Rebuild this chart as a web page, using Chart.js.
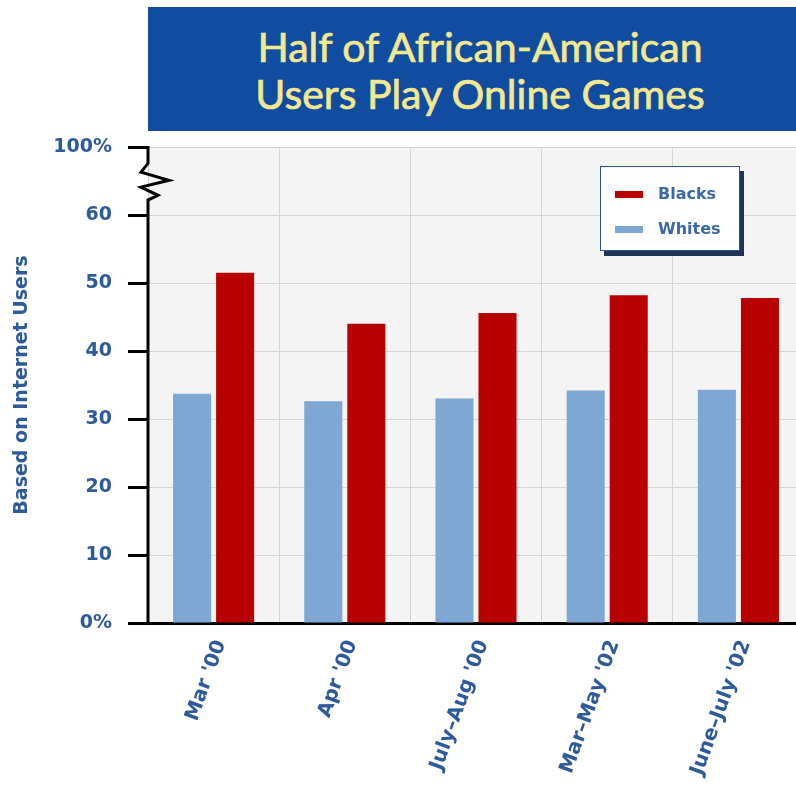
<!DOCTYPE html>
<html>
<head>
<meta charset="utf-8">
<script src="https://cdn.jsdelivr.net/npm/chart.js@4.4.1/dist/chart.umd.min.js"></script>
<style>
  html, body { margin: 0; padding: 0; background: #fff; width: 796px; height: 793px; overflow: hidden; }
  #wrap { position: relative; width: 796px; height: 793px; overflow: hidden; }
  #chart { position: absolute; left: 0; top: 0; }
  #banner {
    position: absolute; left: 148px; top: 7px; width: 664px; height: 124px;
    background: #104ca0; color: #f3e890;
    font-family: Lato, "Open Sans", sans-serif; font-size: 41px;
    -webkit-text-stroke: 0.7px #f3e890;
    text-align: center; line-height: 47px; box-sizing: border-box; padding-top: 16px;
  }
  #legend {
    position: absolute; left: 600px; top: 166px; width: 140px; height: 85px;
    box-sizing: border-box; background: #fff; border: 1.5px solid #2a5490;
    box-shadow: 4px 5px 0 #1d3358;
    font-family: "DejaVu Sans", sans-serif; font-weight: bold; font-size: 16px; color: #3a68a6;
  }
  #legend .item { position: absolute; left: 0; height: 20px; line-height: 20px; }
  #legend .sw { position: absolute; left: 14px; top: 7px; width: 28px; height: 7px; }
  #legend .lb { position: absolute; left: 57px; top: 0; white-space: nowrap; }
</style>
</head>
<body>
<div id="wrap">
  <canvas id="chart" width="804" height="793"></canvas>
  <div id="banner">Half of African-American<br>Users Play Online Games</div>
  <div id="legend"></div>
</div>
<script>
const categories = ["Mar '00", "Apr '00", "July\u2013Aug '00", "Mar\u2013May '02", "June\u2013July '02"];
const whites = [33.7, 32.6, 33.0, 34.2, 34.3];
const blacks = [51.5, 44.0, 45.6, 48.2, 47.8];
const yTickValues = [0, 10, 20, 30, 40, 50, 60, 70];
const yTickLabels = ['0%', '10', '20', '30', '40', '50', '60', '100%'];

const blue = '#2d5a9b';
const tickFont = { family: 'DejaVu Sans', weight: 'bold', size: 19 };
const xFont = { family: 'DejaVu Sans', weight: 'bold', size: 20 };
const titleFont = { family: 'DejaVu Sans', weight: 'bold', size: 19 };
Chart.defaults.font.family = 'DejaVu Sans';

// light grey plot background
const plotBg = {
  id: 'plotBg',
  beforeDraw(chart) {
    const a = chart.chartArea, c = chart.ctx;
    c.save();
    c.fillStyle = '#f4f4f4';
    c.fillRect(a.left, a.top, a.right - a.left, a.bottom - a.top);
    c.restore();
  }
};

// y axis line with the break between 60 and 100%
const axisBreak = {
  id: 'axisBreak',
  afterDraw(chart) {
    const y = chart.scales.y, c = chart.ctx, x0 = chart.chartArea.left;
    const zig = [[0, 67.6], [-7, 66.3], [21, 65.1], [-7, 64.1], [10, 62.9], [0, 62.2]];
    c.save();
    c.strokeStyle = '#000';
    c.lineWidth = 3;
    c.beginPath();
    c.moveTo(x0, y.getPixelForValue(0) + 1.5);
    zig.slice().reverse().forEach(p => c.lineTo(x0 + p[0], y.getPixelForValue(p[1])));
    c.lineTo(x0, y.getPixelForValue(70) - 1);
    c.stroke();
    c.restore();
  }
};

const ctx = document.getElementById('chart').getContext('2d');
const chart = new Chart(ctx, {
  type: 'bar',
  data: {
    labels: categories,
    datasets: [{
      label: 'Whites',
      data: whites,
      backgroundColor: '#7ea7d3',
      categoryPercentage: 0.656,
      barPercentage: 0.884
    }, {
      label: 'Blacks',
      data: blacks,
      backgroundColor: '#b80000',
      categoryPercentage: 0.656,
      barPercentage: 0.884
    }]
  },
  options: {
    responsive: false,
    animation: false,
    layout: { padding: { top: 147, left: 0, right: 0, bottom: 0 } },
    plugins: { legend: { display: false }, tooltip: { enabled: false } },
    scales: {
      x: {
        grid: { color: '#d4d4d4', drawTicks: false, offset: true },
        border: { color: '#000', width: 3 },
        ticks: { font: xFont, color: blue, minRotation: 70, maxRotation: 70, padding: 14, labelOffset: 7 },
        afterFit(s) { s.height = 170; }
      },
      y: {
        min: 0,
        max: 70,
        afterBuildTicks(s) { s.ticks = yTickValues.map(v => ({ value: v })); },
        ticks: {
          font: tickFont,
          color: blue,
          padding: 16,
          callback: v => yTickLabels[yTickValues.indexOf(v)]
        },
        grid: { color: '#d4d4d4', tickColor: '#000', tickLength: 20, tickWidth: 3 },
        border: { display: false },
        title: {
          display: true,
          text: 'Based on Internet Users',
          font: titleFont,
          color: blue,
          padding: { top: 11, bottom: 0 }
        },
        afterFit(s) { s.width = 148; }
      }
    }
  },
  plugins: [plotBg, axisBreak]
});

// legend box, Blacks listed first
const legend = document.getElementById('legend');
[1, 0].forEach((di, i) => {
  const ds = chart.data.datasets[di];
  const item = document.createElement('div');
  item.className = 'item';
  item.style.top = (17 + i * 35) + 'px';
  item.innerHTML = '<span class="sw" style="background:' + ds.backgroundColor + '"></span><span class="lb">' + ds.label + '</span>';
  legend.appendChild(item);
});
</script>
</body>
</html>
